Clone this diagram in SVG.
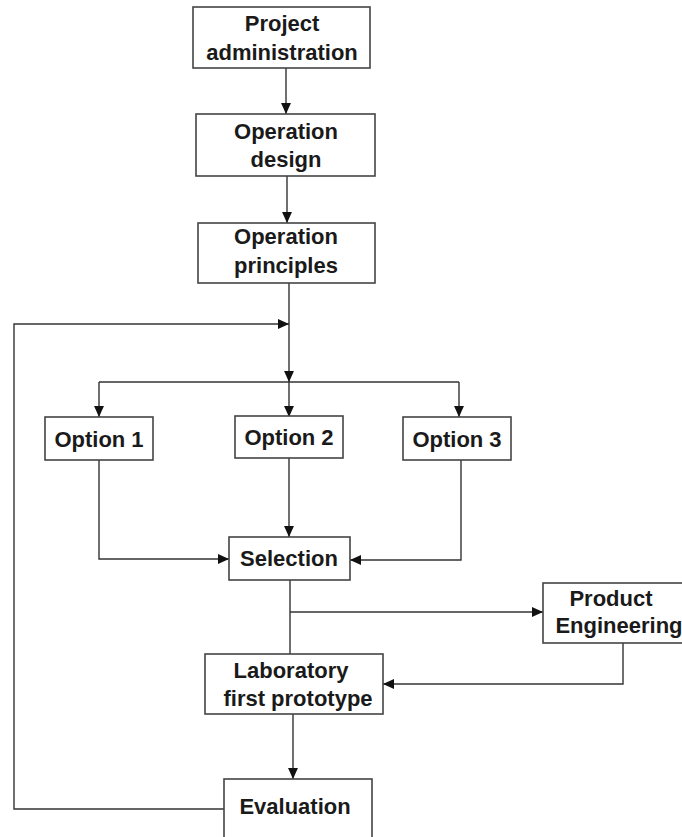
<svg xmlns="http://www.w3.org/2000/svg" width="682" height="837" viewBox="0 0 682 837">
<style>
.box{fill:#fff;stroke:#444;stroke-width:1.6}
.t{font-family:"Liberation Sans",Arial,sans-serif;font-size:22px;font-weight:bold;fill:#1a1a1a;text-anchor:middle}
.c{fill:none;stroke:#333;stroke-width:1.4}
</style>
<defs>
<marker id="ah" markerUnits="userSpaceOnUse" markerWidth="11" markerHeight="11" viewBox="0 0 10 10" refX="10" refY="5" orient="auto">
<path d="M0,0.5 L10,5 L0,9.5 Z" fill="#111"/>
</marker>
</defs>
<rect width="682" height="837" fill="#fff"/>
<g id="connectors">
<path class="c" d="M286,68 V114" marker-end="url(#ah)"/>
<path class="c" d="M287,176 V223" marker-end="url(#ah)"/>
<path class="c" d="M289,283 V382" marker-end="url(#ah)"/>
<path class="c" d="M224,809 H14 V324 H289" marker-end="url(#ah)"/>
<path class="c" d="M99,382 H459"/>
<path class="c" d="M99,382 V417" marker-end="url(#ah)"/>
<path class="c" d="M289,382 V417" marker-end="url(#ah)"/>
<path class="c" d="M459,382 V417" marker-end="url(#ah)"/>
<path class="c" d="M99,460 V559 H229" marker-end="url(#ah)"/>
<path class="c" d="M289,458 V537" marker-end="url(#ah)"/>
<path class="c" d="M461,460 V560 H350" marker-end="url(#ah)"/>
<path class="c" d="M290,580 V654"/>
<path class="c" d="M290,612 H543" marker-end="url(#ah)"/>
<path class="c" d="M623,643 V684 H383" marker-end="url(#ah)"/>
<path class="c" d="M293,714 V779" marker-end="url(#ah)"/>
</g>
<g id="project-administration">
<rect class="box" x="193" y="7" width="177" height="61"/>
<text class="t" x="282" y="31">Project</text>
<text class="t" x="282" y="60">administration</text>
</g>
<g id="operation-design">
<rect class="box" x="196" y="114" width="179" height="62"/>
<text class="t" x="286" y="139">Operation</text>
<text class="t" x="286" y="167">design</text>
</g>
<g id="operation-principles">
<rect class="box" x="198" y="223" width="177" height="60"/>
<text class="t" x="286" y="244">Operation</text>
<text class="t" x="286" y="273">principles</text>
</g>
<g id="option-1">
<rect class="box" x="45" y="417" width="108" height="43"/>
<text class="t" x="99" y="447">Option 1</text>
</g>
<g id="option-2">
<rect class="box" x="235" y="416" width="108" height="42"/>
<text class="t" x="289" y="445">Option 2</text>
</g>
<g id="option-3">
<rect class="box" x="403" y="417" width="108" height="43"/>
<text class="t" x="457" y="447">Option 3</text>
</g>
<g id="selection">
<rect class="box" x="229" y="537" width="121" height="43"/>
<text class="t" x="289" y="566">Selection</text>
</g>
<g id="product-engineering">
<rect class="box" x="543" y="583" width="145" height="60"/>
<text class="t" x="611" y="606">Product</text>
<text class="t" x="619" y="633">Engineering</text>
</g>
<g id="laboratory-first-prototype">
<rect class="box" x="205" y="654" width="178" height="60"/>
<text class="t" x="291" y="678">Laboratory</text>
<text class="t" x="298" y="706">first prototype</text>
</g>
<g id="evaluation">
<rect class="box" x="224" y="779" width="148" height="70"/>
<text class="t" x="295" y="814">Evaluation</text>
</g>
</svg>
